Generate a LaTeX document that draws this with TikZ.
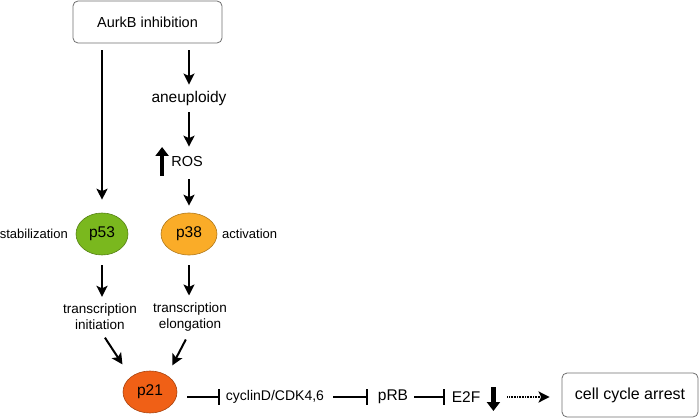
\documentclass[tikz,border=0pt]{standalone}
\usepackage{fontspec}
\setmainfont{Liberation Sans}
\usetikzlibrary{arrows.meta,shapes.geometric}
\definecolor{pgreen}{RGB}{122,184,30}
\definecolor{porange}{RGB}{250,172,40}
\definecolor{pred}{RGB}{240,96,22}
\definecolor{boxgray}{RGB}{110,110,110}
\begin{document}
\begin{tikzpicture}[x=1pt,y=-1pt,
  lbl/.style={inner sep=0pt, font=\fontsize{15}{18}\selectfont},
  sml/.style={inner sep=0pt, font=\fontsize{13}{16}\selectfont},
  two/.style={inner sep=0pt, align=center, font=\fontsize{13.5}{16}\selectfont},
  roundbox/.style={draw=boxgray, line width=0.8pt, rounded corners=5pt, inner sep=0pt},
  prot/.style={ellipse, draw=#1!70!black, fill=#1, line width=0.6pt, inner sep=0pt,
    minimum height=42pt, font=\fontsize{15.5}{18}\selectfont},
  arr/.style={line width=2pt, -{Stealth[length=11pt,width=11pt,inset=2.5pt]}},
  inh/.style={line width=2pt, -{Bar[width=16pt,line width=2pt]}},
  thickarr/.style={line width=4.5pt, -{Triangle[length=9pt,width=13pt]}},
  dotarr/.style={line width=2.2pt, dash pattern=on 0.8pt off 0.8pt,
    -{Stealth[length=11pt,width=11pt,inset=2.5pt]}}
]
\useasboundingbox (0,0) rectangle (700,419);

% nodes
\node[roundbox, minimum width=149pt, minimum height=42pt, font=\fontsize{14.5}{17}\selectfont]
  (aurkb) at (147.5,22) {AurkB inhibition};
\node[lbl, font=\fontsize{15.5}{18}\selectfont] (aneu) at (189,98) {aneuploidy};
\node[lbl, font=\fontsize{14.5}{17}\selectfont] (ros) at (187,162) {ROS};
\node[prot=pgreen, minimum width=52pt] (p53) at (102,234) {p53};
\node[prot=porange, minimum width=56pt] (p38) at (189,234) {p38};
\node[sml, anchor=east] (stab) at (68,234) {stabilization};
\node[sml, anchor=west] (activ) at (222,234) {activation};
\node[two] (tinit) at (100,317) {transcription\\initiation};
\node[two] (telong) at (190,317) {transcription\\elongation};
\node[prot=pred, minimum width=54pt] (p21) at (150,392) {p21};
\node[lbl, font=\fontsize{14}{17}\selectfont] (cyc) at (275,397) {cyclinD/CDK4,6};
\node[lbl, font=\fontsize{15.5}{18}\selectfont] (prb) at (393,397) {pRB};
\node[lbl, font=\fontsize{15.5}{18}\selectfont] (e2f) at (466,397) {E2F};
\node[roundbox, minimum width=136pt, minimum height=44pt, font=\fontsize{16}{19}\selectfont]
  (cca) at (630,395) {cell cycle arrest};

% connectors
\draw[arr, shorten <=7pt, shorten >=13pt] (aurkb.south -| p53) -- (p53.north);
\draw[arr, shorten <=7pt, shorten >=6pt] (aurkb.south -| aneu) -- (aneu.north);
\draw[arr, shorten <=7pt, shorten >=10pt] (aneu.south) -- (ros.north -| aneu);
\draw[arr, shorten <=12pt, shorten >=7pt] (ros.south -| p38) -- (p38.north);
\draw[arr, shorten <=10pt, shorten >=7pt] (p53.south) -- (tinit.north -| p53);
\draw[arr, shorten <=10pt, shorten >=7pt] (p38.south) -- (telong.north -| p38);
\draw[arr, shorten <=9pt, shorten >=15pt] (tinit.south) -- (p21.north west);
\draw[arr, shorten <=9pt, shorten >=13pt] (telong.south) -- ([xshift=-3pt]p21.north east);
\draw[inh, shorten <=10pt, shorten >=6pt] (p21.east |- cyc) -- (cyc.west);
\draw[inh, shorten <=9pt, shorten >=10pt] (cyc.east) -- (prb.west);
\draw[inh, shorten <=6pt, shorten >=7pt] (prb.east) -- (e2f.west);
\draw[dotarr, shorten <=27pt, shorten >=12pt] (e2f.east) -- (cca.west |- e2f);
\draw[thickarr] ([shift={(13,-10)}]e2f.east) -- ++(0,24);
\draw[thickarr] ([shift={(-9,14)}]ros.west) -- ++(0,-29);
\end{tikzpicture}
\end{document}
